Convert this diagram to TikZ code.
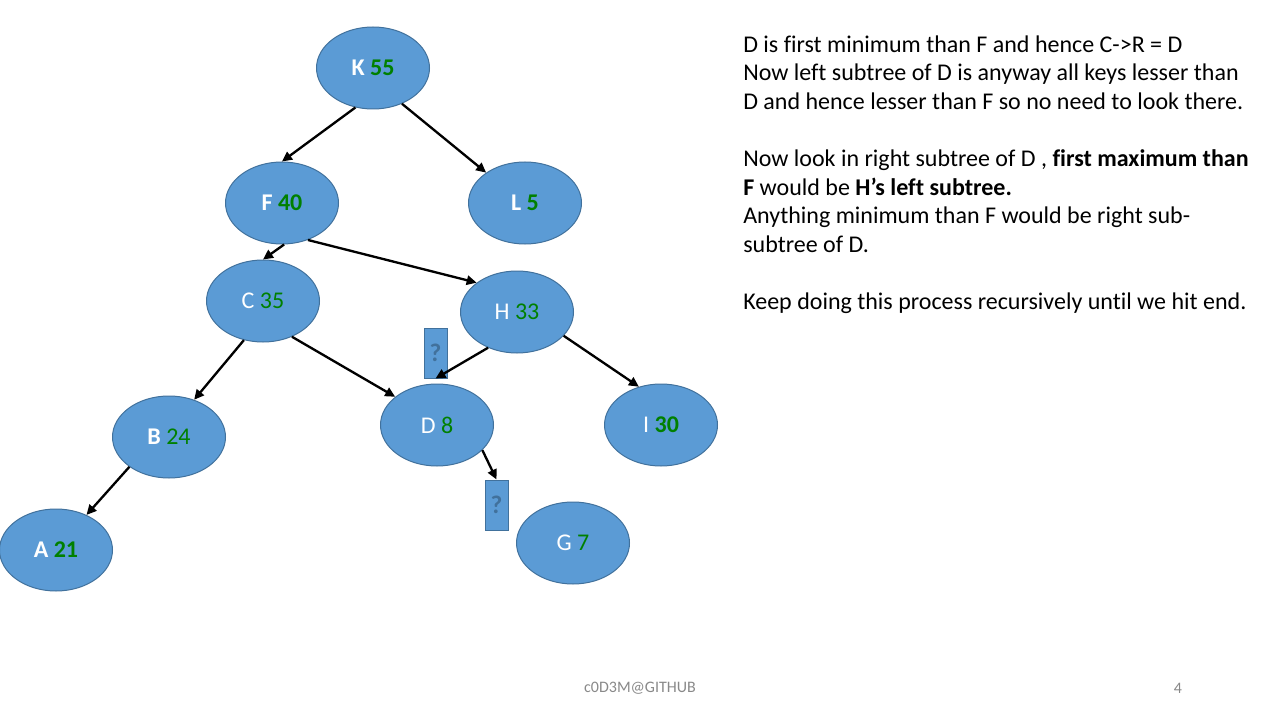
\documentclass[tikz,border=0pt]{standalone}
\usepackage{fontspec}
\setmainfont{Carlito}[Ligatures=NoCommon]
\usetikzlibrary{shapes.geometric, arrows.meta}
\definecolor{nodeblue}{HTML}{5B9BD5}
\definecolor{nodeedge}{HTML}{41719C}
\definecolor{keygreen}{HTML}{008000}
\definecolor{footgray}{HTML}{898989}
\newcommand{\kv}[1]{\textcolor{keygreen}{#1}}

\begin{document}
\begin{tikzpicture}[x=0.75pt, y=-0.75pt, font=\fontsize{18}{21.4}\selectfont,
  bst/.style={ellipse, fill=nodeblue, draw=nodeedge, line width=0.75pt, minimum width=84.75pt, minimum height=61.5pt, inner sep=0pt, text=white},
  qbox/.style={rectangle, fill=nodeblue, draw=nodeedge, line width=0.75pt, minimum width=17.25pt, minimum height=37.5pt, inner sep=0pt, text=nodeedge, font=\fontsize{19}{20}\selectfont\bfseries},
  link/.style={black, line width=1.75pt, -{Triangle[length=7.5pt, width=7pt]}}]

  \useasboundingbox[fill=white] (0,0) rectangle (1280,720);

  \node[bst] (K) at (373,68) {\textbf{K} \kv{\textbf{55}}};
  \node[bst] (F) at (282,203) {\textbf{F} \kv{\textbf{40}}};
  \node[bst] (L) at (525,203) {\textbf{L} \kv{\textbf{5}}};
  \node[bst] (C) at (263,301) {C \kv{35}};
  \node[bst] (H) at (517,312) {H \kv{33}};
  \node[bst] (B) at (169,437) {\textbf{B} \kv{24}};
  \node[bst] (D) at (437,425) {D \kv{8}};
  \node[bst] (I) at (661,425) {I \kv{\textbf{30}}};
  \node[bst] (A) at (56,550) {\textbf{A} \kv{\textbf{21}}};
  \node[bst] (G) at (573,543) {G \kv{7}};

  \node[qbox] (q1) at (435.5,353) {?};
  \node[qbox] (q2) at (496.5,505) {?};

  \draw[link] (K.246) -- (F.north);
  \draw[link] (K.309) -- (L.142);
  \draw[link] (F.273) -- (C.north);
  \draw[link] (F.305) -- (H.144);
  \draw[link] (C.244) -- (B.56);
  \draw[link] (C.309) -- (D.146);
  \draw[link] (H.231) -- (q1.south);
  \draw[link] (H.333) -- (I.120);
  \draw[link] (B.217) -- (A.49);
  \draw[link] (D.331) -- (q2.north);

  \node[anchor=north west, align=left, inner sep=0pt] (notes) at (743,35.5)
    {D is first minimum than F and hence C->R = D\\
     Now left subtree of D is anyway all keys lesser than\\
     D and hence lesser than F so no need to look there.\\[21.4pt]
     Now look in right subtree of D , \textbf{first maximum than}\\
     \textbf{F} would be \textbf{H’s left subtree.}\\
     Anything minimum than F would be right sub-\\
     subtree of D.\\[21.4pt]
     Keep doing this process recursively until we hit end.};

  \node[text=footgray, font=\fontsize{12}{14}\selectfont] (credit) at (640,688) {c0D3M@GITHUB};
  \node[text=footgray, font=\fontsize{12}{14}\selectfont] (pagenum) at (1178,688) {4};

\end{tikzpicture}
\end{document}
